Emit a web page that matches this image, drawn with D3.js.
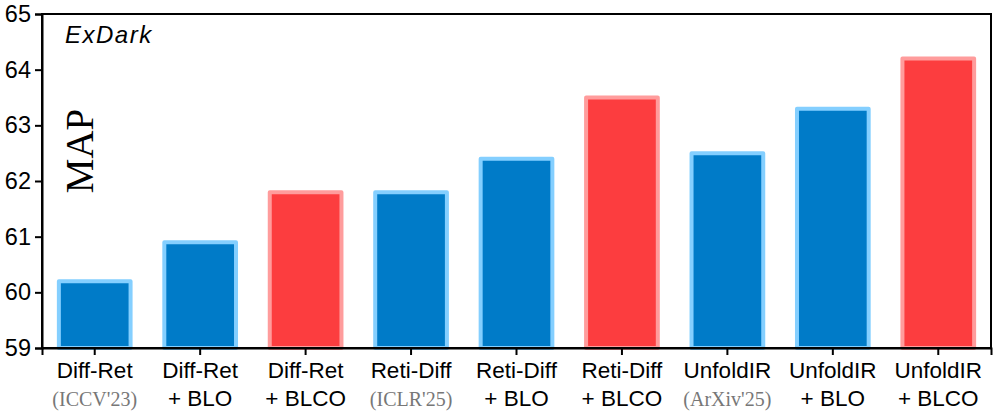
<!DOCTYPE html>
<html>
<head>
<meta charset="utf-8">
<script src="https://cdn.jsdelivr.net/npm/d3@7"></script>
<style>
  body { margin: 0; background: #fff; }
  svg { display: block; }
</style>
</head>
<body>
<svg id="chart" width="996" height="411"></svg>
<script>
// Data
const methods = ['Diff-Ret', 'Diff-Ret', 'Diff-Ret', 'Reti-Diff', 'Reti-Diff', 'Reti-Diff', 'UnfoldIR', 'UnfoldIR', 'UnfoldIR'];
const subLabels = ["(ICCV'23)", '+ BLO', '+ BLCO', "(ICLR'25)", '+ BLO', '+ BLCO', "(ArXiv'25)", '+ BLO', '+ BLCO'];
const mapValues = [60.2, 60.9, 61.8, 61.8, 62.4, 63.5, 62.5, 63.3, 64.2];
const yTicks = [59, 60, 61, 62, 63, 64, 65];

const svg = d3.select('#chart');
const margin = { left: 42, right: 5, top: 14, bottom: 63 };
const width = 996, height = 411;

const x = d3.scaleBand()
    .domain(d3.range(mapValues.length))
    .range([margin.left, width - margin.right])
    .paddingInner(0.32)
    .paddingOuter(0.16);

const y = d3.scaleLinear()
    .domain([59, 65])
    .range([height - margin.bottom, margin.top]);

const isOurs = i => subLabels[i] === '+ BLCO';
const isRef = d => d.startsWith('(');

// Bars
svg.append('g')
    .selectAll('rect')
    .data(mapValues)
    .join('rect')
    .attr('x', (d, i) => x(i))
    .attr('y', d => y(d))
    .attr('width', x.bandwidth())
    .attr('height', d => y(59) - y(d))
    .attr('fill', (d, i) => isOurs(i) ? '#fc3d3f' : '#007bc8')
    .attr('stroke', (d, i) => isOurs(i) ? '#ff9c9c' : '#84cfff')
    .attr('stroke-width', 4)
    .attr('stroke-linejoin', 'round');

// Frame
svg.append('rect')
    .attr('x', margin.left)
    .attr('y', margin.top)
    .attr('width', width - margin.left - margin.right)
    .attr('height', height - margin.top - margin.bottom)
    .attr('fill', 'none')
    .attr('stroke', '#000')
    .attr('stroke-width', 2);

// Y axis
const yAxis = svg.append('g')
    .attr('transform', `translate(${margin.left},0)`)
    .call(d3.axisLeft(y).tickValues(yTicks).tickSize(7).tickFormat(d3.format('d')));
yAxis.select('.domain').attr('stroke-width', 2);
yAxis.selectAll('.tick line').attr('stroke-width', 2);
yAxis.selectAll('.tick text')
    .attr('font-family', 'Liberation Sans, Arial, sans-serif')
    .attr('font-size', 23.5)
    .attr('fill', '#000')
    .attr('x', -11);

// X axis
const xAxis = svg.append('g')
    .attr('transform', `translate(0,${height - margin.bottom})`)
    .call(d3.axisBottom(x).tickSize(7).tickFormat(''));
xAxis.select('.domain').attr('stroke-width', 2);
xAxis.selectAll('.tick line').attr('stroke-width', 2);

const labels = svg.append('g');
labels.selectAll('text.method')
    .data(methods)
    .join('text')
    .attr('class', 'method')
    .attr('x', (d, i) => x(i) + x.bandwidth() / 2)
    .attr('y', 378)
    .attr('text-anchor', 'middle')
    .attr('font-family', 'Liberation Sans, Arial, sans-serif')
    .attr('font-size', 22.5)
    .text(d => d);

labels.selectAll('text.sub')
    .data(subLabels)
    .join('text')
    .attr('class', 'sub')
    .attr('x', (d, i) => x(i) + x.bandwidth() / 2)
    .attr('y', 406)
    .attr('text-anchor', 'middle')
    .attr('font-family', d => isRef(d) ? 'Liberation Serif, Times New Roman, serif' : 'Liberation Sans, Arial, sans-serif')
    .attr('font-size', d => isRef(d) ? 20 : 22.5)
    .attr('fill', d => isRef(d) ? '#777' : '#000')
    .text(d => d);

// Dataset title
svg.append('text')
    .attr('x', 65)
    .attr('y', 43)
    .attr('font-family', 'Liberation Sans, Arial, sans-serif')
    .attr('font-style', 'italic')
    .attr('font-size', 24)
    .attr('letter-spacing', 1.5)
    .text('ExDark');

// Y label
svg.append('text')
    .attr('transform', 'translate(93,151) rotate(-90)')
    .attr('text-anchor', 'middle')
    .attr('font-family', 'Liberation Serif, Times New Roman, serif')
    .attr('font-size', 39)
    .text('MAP');
</script>
</body>
</html>
